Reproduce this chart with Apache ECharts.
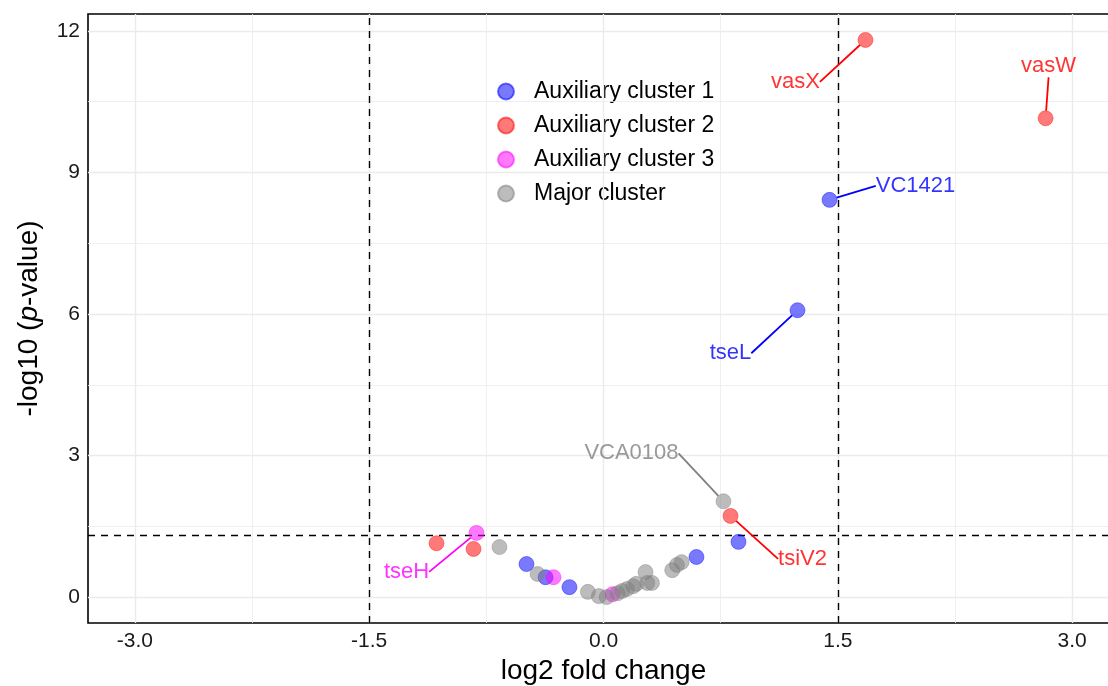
<!DOCTYPE html>
<html>
<head>
<meta charset="utf-8">
<title>Volcano plot</title>
<script src="https://cdn.jsdelivr.net/npm/echarts@6/dist/echarts.min.js"></script>
<style>
  html, body { margin: 0; padding: 0; background: #fff; }
  #main { width: 1108px; height: 686px; }
</style>
</head>
<body>
<div id="main"></div>
<script>
// points: [log2 fold change, -log10 p, gene label]
const aux1 = [
  [1.447, 8.42, 'VC1421'], [1.242, 6.08, 'tseL'], [0.864, 1.17, ''], [0.595, 0.85, ''],
  [-0.493, 0.70, ''], [-0.371, 0.42, ''], [-0.218, 0.21, '']
];
const aux2 = [
  [1.677, 11.81, 'vasX'], [2.83, 10.15, 'vasW'], [0.813, 1.72, 'tsiV2'],
  [-1.069, 1.14, ''], [-0.832, 1.02, '']
];
const aux3 = [
  [-0.813, 1.36, 'tseH'], [-0.32, 0.42, ''], [0.058, 0.06, '']
];
const major = [
  [0.768, 2.03, 'VCA0108'], [-0.666, 1.06, ''], [-0.422, 0.49, ''], [-0.10, 0.11, ''],
  [-0.03, 0.02, ''], [0.02, 0.0, ''], [0.09, 0.08, ''], [0.12, 0.13, ''], [0.15, 0.17, ''],
  [0.19, 0.23, ''], [0.21, 0.28, ''], [0.269, 0.53, ''], [0.28, 0.30, ''], [0.31, 0.30, ''],
  [0.44, 0.57, ''], [0.47, 0.68, ''], [0.50, 0.74, '']
];

const xTicks = [-3.0, -1.5, 0.0, 1.5, 3.0];
const xMinor = [-2.25, -0.75, 0.75, 2.25];
const yTicks = [0, 3, 6, 9, 12];
const yMinor = [1.5, 4.5, 7.5, 10.5];
const fcCut = [-1.5, 1.5];
const pCut = 1.301; // -log10(0.05)

// where each gene label sits relative to its point (pixels)
const labelOffset = {
  vasX: [-70, 42], vasW: [3, -52], VC1421: [86, -14], tseL: [-67, 43],
  VCA0108: [-92, -48], tsiV2: [72, 43], tseH: [-70, 39]
};

const font = '"Liberation Sans", Arial, sans-serif';

function cluster(name, fill, stroke, pts) {
  return {
    name: name,
    type: 'scatter',
    z: 5,
    data: pts.map(p => p[2]
      ? { value: p }
      : { value: p, label: { show: false }, labelLine: { show: false } }),
    symbolSize: 15,
    itemStyle: { color: fill, borderColor: fill, borderWidth: 0.8 },
    label: {
      show: true,
      position: 'inside',
      formatter: p => p.value[2] || '',
      color: stroke,
      fontSize: 22,
      fontFamily: font
    },
    labelLine: { show: true, lineStyle: { color: stroke, width: 1.8 } },
    labelLayout: function (p) {
      const o = labelOffset[p.text];
      if (!o) return {};
      return { dx: o[0], dy: o[1] };
    },
    emphasis: { disabled: true },
    animation: false
  };
}

function vline(v, style) { return { xAxis: v, lineStyle: style }; }
function hline(v, style) { return { yAxis: v, lineStyle: style }; }

const majorStyle = { color: '#ebebeb', width: 1.4, type: 'solid' };
const minorStyle = { color: '#ebebeb', width: 0.8, type: 'solid' };
const cutStyle = { color: '#000', width: 1.4, type: [7, 6] };

const gridLines = [].concat(
  xTicks.map(v => vline(v, majorStyle)),
  xMinor.map(v => vline(v, minorStyle)),
  yTicks.map(v => hline(v, majorStyle)),
  yMinor.map(v => hline(v, minorStyle))
);
const cutLines = [].concat(
  fcCut.map(v => vline(v, cutStyle)),
  [hline(pCut, cutStyle)]
);

const chart = echarts.init(document.getElementById('main'));
chart.setOption({
  backgroundColor: '#fff',
  animation: false,
  textStyle: { fontFamily: font },
  grid: {
    left: 88, top: 14, right: -11, bottom: 63,
    outerBoundsMode: 'none',
    show: true, borderColor: '#000', borderWidth: 1.6, backgroundColor: '#fff'
  },
  legend: {
    orient: 'vertical',
    left: 485, top: 74,
    itemWidth: 46, itemHeight: 16, itemGap: 11,
    backgroundColor: '#fff',
    padding: [6, 12],
    icon: 'circle',
    textStyle: { fontSize: 23, color: '#000', fontFamily: font },
    data: ['Auxiliary cluster 1', 'Auxiliary cluster 2', 'Auxiliary cluster 3', 'Major cluster']
  },
  xAxis: {
    type: 'value', min: -3.3, max: 3.3,
    name: 'log2 fold change', nameLocation: 'middle', nameGap: 33,
    nameTextStyle: { fontSize: 28, color: '#000' },
    axisLine: { show: false },
    axisTick: { show: true, customValues: xTicks, length: 4, lineStyle: { color: '#333' } },
    axisLabel: { customValues: xTicks, formatter: v => v.toFixed(1), fontSize: 21, color: '#1a1a1a', margin: 8 },
    splitLine: { show: false }
  },
  yAxis: {
    type: 'value', min: -0.55, max: 12.36,
    name: '{n|-log10 (}{i|p}{n|-value)}', nameLocation: 'middle', nameGap: 45, nameRotate: 90,
    nameTextStyle: {
      rich: {
        n: { fontSize: 28, color: '#000', fontFamily: font },
        i: { fontSize: 28, color: '#000', fontStyle: 'italic', fontFamily: font }
      }
    },
    axisLine: { show: false },
    axisTick: { show: true, customValues: yTicks, length: 4, lineStyle: { color: '#333' } },
    axisLabel: { customValues: yTicks, fontSize: 21, color: '#1a1a1a', margin: 8 },
    splitLine: { show: false }
  },
  series: [
    {
      name: 'gridlines', type: 'scatter', data: [], z: 1, silent: true,
      markLine: { silent: true, symbol: ['none', 'none'], label: { show: false }, animation: false, data: gridLines }
    },
    {
      name: 'cutoffs', type: 'scatter', data: [], z: 2, silent: true,
      markLine: { silent: true, symbol: ['none', 'none'], label: { show: false }, animation: false, data: cutLines }
    },
    cluster('Auxiliary cluster 1', 'rgba(0,0,255,0.66)', '#0000ff', aux1),
    cluster('Auxiliary cluster 2', 'rgba(255,0,0,0.66)', '#ff0000', aux2),
    cluster('Auxiliary cluster 3', 'rgba(255,0,255,0.66)', '#ff00ff', aux3),
    cluster('Major cluster', 'rgba(128,128,128,0.66)', '#808080', major)
  ]
});
</script>
</body>
</html>
